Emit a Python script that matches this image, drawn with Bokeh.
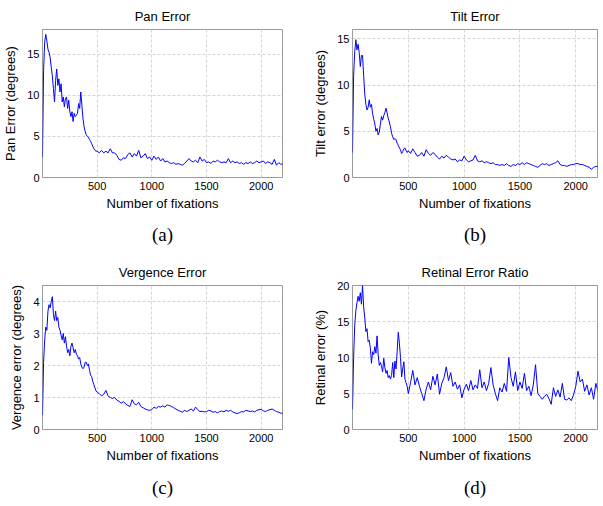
from bokeh.plotting import figure
from bokeh.layouts import gridplot
from bokeh.models import Range1d, FixedTicker, Title
from bokeh.embed import file_html
from bokeh.resources import INLINE

FONT = "Liberation Sans"
SERIF = "Liberation Serif"

X_MAX = 2195
X_TICKS = [500, 1000, 1500, 2000]
EARLY_STEP = 10      # fixations between samples, 0..490
LATE_START = 500
LATE_STEP = 20       # fixations between samples, 500..2200

# ---- Pan error (degrees)
PAN_EARLY = [2.5, 13.0, 16.5, 17.4, 16.6, 15.6, 15.2, 14.6, 13.4, 12.4,
             10.8, 9.2, 11.8, 13.2, 11.2, 12.0, 10.4, 11.4, 9.2, 9.8,
             8.6, 9.6, 9.8, 8.4, 9.4, 8.0, 7.4, 8.0, 6.8, 7.8,
             7.4, 7.6, 7.8, 9.0, 8.4, 10.4, 8.8, 7.2, 6.2, 5.6,
             5.2, 5.0, 4.9, 4.6, 4.4, 4.1, 3.8, 3.5, 3.3, 3.2]
PAN_LATE = [3.2, 3.0, 3.3, 3.0, 3.2, 3.0, 3.5, 3.0, 3.0, 2.7,
            2.2, 2.1, 2.4, 2.3, 2.8, 3.0, 2.5, 2.9, 2.6, 3.3,
            2.4, 2.6, 2.9, 2.3, 2.5, 2.1, 2.6, 2.2, 2.5, 2.0,
            2.3, 1.9, 2.0, 1.8, 1.7, 1.8, 1.6, 1.7, 1.6, 1.5,
            1.7, 2.0, 2.3, 2.0, 1.9, 2.1, 1.8, 2.5, 2.0, 2.2,
            1.8, 1.9, 1.7, 2.0, 1.9, 2.1, 1.9, 1.8, 1.9, 1.8,
            2.3, 1.8, 2.0, 1.8, 1.9, 1.7, 1.8, 1.6, 1.8, 1.7,
            1.9, 1.7, 1.8, 2.0, 1.8, 1.9, 2.0, 1.7, 1.9, 1.8,
            1.6, 2.2, 1.5, 1.8, 1.6, 1.7]

# ---- Tilt error (degrees)
TILT_EARLY = [2.7, 11.0, 13.6, 14.9, 13.8, 14.4, 13.5, 12.0, 13.2, 13.2,
              11.0, 9.0, 7.9, 7.3, 7.6, 8.4, 7.6, 7.9, 6.9, 6.3,
              5.8, 5.0, 5.3, 4.6, 4.9, 5.8, 6.6, 6.2, 6.7, 7.0,
              7.5, 7.0, 6.4, 6.0, 5.5, 4.8, 4.4, 4.1, 4.2, 4.1,
              3.7, 3.5, 3.2, 3.0, 2.6, 2.8, 3.1, 3.2, 2.9, 2.7]
TILT_LATE = [2.9, 2.6, 3.1, 2.7, 2.3, 2.4, 2.7, 2.3, 3.0, 2.6,
             2.4, 2.7, 2.5, 2.2, 2.0, 2.3, 2.1, 2.4, 2.2, 2.0,
             1.9, 2.0, 1.7, 1.9, 1.8, 2.3, 1.9, 1.7, 1.8, 1.9,
             2.4, 1.8, 1.7, 1.8, 1.6, 1.7, 1.6, 1.5, 1.6, 1.4,
             1.4, 1.3, 1.4, 1.3, 1.5, 1.3, 1.2, 1.4, 1.3, 1.5,
             1.4, 1.6, 1.4, 1.6, 1.5, 1.4, 1.3, 1.2, 1.1, 1.3,
             1.5, 1.4, 1.5, 1.3, 1.4, 1.5, 1.6, 1.8, 1.4, 1.3,
             1.3, 1.2, 1.3, 1.4, 1.4, 1.5, 1.5, 1.4, 1.4, 1.3,
             1.2, 1.1, 0.9, 1.1, 1.2, 1.2]

# ---- Vergence error (degrees)
VERG_EARLY = [0.45, 2.1, 2.8, 3.2, 3.1, 3.7, 3.9, 3.8, 4.0, 4.15,
              3.6, 3.4, 3.7, 3.4, 3.5, 3.2, 3.1, 2.95, 2.8, 3.0,
              2.7, 2.9, 2.6, 2.4, 2.5, 2.3, 2.6, 2.7, 2.55, 2.4,
              2.5, 2.35, 2.3, 2.2, 2.25, 2.05, 1.95, 1.9, 1.95, 2.1,
              2.1, 2.0, 2.05, 1.85, 1.7, 1.65, 1.5, 1.4, 1.3, 1.2]
VERG_LATE = [1.17, 1.12, 1.05, 1.1, 1.22, 1.05, 1.0, 0.97, 1.0, 0.92,
             0.88, 0.82, 0.87, 0.8, 0.75, 0.72, 0.93, 0.8, 0.77, 0.85,
             0.72, 0.68, 0.64, 0.61, 0.6, 0.62, 0.7, 0.66, 0.72, 0.7,
             0.74, 0.7, 0.77, 0.75, 0.72, 0.68, 0.64, 0.6, 0.57, 0.54,
             0.6, 0.56, 0.6, 0.64, 0.58, 0.7, 0.62, 0.56, 0.57, 0.55,
             0.56, 0.6, 0.58, 0.54, 0.56, 0.52, 0.56, 0.58, 0.55, 0.6,
             0.57, 0.6, 0.55, 0.52, 0.5, 0.52, 0.56, 0.55, 0.6, 0.58,
             0.56, 0.58, 0.55, 0.6, 0.62, 0.63, 0.58, 0.56, 0.6, 0.62,
             0.64, 0.6, 0.56, 0.54, 0.51, 0.5]

# ---- Retinal error ratio (%)
RET_EARLY = [2.8, 10.0, 14.5, 16.5, 17.6, 18.5, 17.8, 19.0, 17.4, 20.0,
             17.0, 15.5, 13.6, 14.0, 12.2, 12.4, 11.3, 9.2, 10.8, 10.4,
             11.5, 10.6, 13.0, 10.4, 8.9, 9.3, 8.8, 8.0, 9.9, 8.6,
             7.8, 8.2, 7.2, 7.5, 7.0, 7.5, 9.3, 7.2, 9.5, 8.4,
             10.8, 13.5, 12.0, 10.0, 7.3, 8.4, 9.4, 7.0, 6.5, 6.0]
RET_LATE = [5.0, 6.5, 8.2, 6.2, 7.2, 6.0, 5.0, 4.0, 5.6, 6.6,
            5.5, 7.4, 6.2, 7.7, 4.9, 6.4, 7.2, 8.7, 6.8, 7.9,
            6.0, 6.6, 5.6, 6.2, 4.4, 5.6, 6.3, 5.4, 6.8, 5.5,
            6.2, 5.7, 8.3, 5.8, 6.6, 5.4, 6.4, 8.6, 6.2, 5.0,
            4.0, 5.8, 5.2, 6.4, 5.3, 10.0, 7.2, 6.0, 8.0, 5.4,
            6.6, 5.7, 7.8, 5.4, 6.0, 4.7, 6.2, 9.0, 5.0, 4.6,
            4.2, 4.6, 4.9, 4.3, 3.5, 5.8, 4.6, 5.5, 4.5, 6.4,
            4.2, 4.1, 4.4, 4.0, 4.8, 6.0, 8.1, 6.6, 7.0, 5.3,
            6.2, 4.8, 5.8, 4.2, 6.4, 5.3]


def make_panel(title, ylabel, caption, early, late, ymax, yticks,
               width, height, bl, br, bt, bb, cap_standoff):
    xs = [EARLY_STEP * i for i in range(len(early))] + \
         [LATE_START + LATE_STEP * i for i in range(len(late))]
    ys = early + late
    p = figure(width=width, height=height, output_backend="svg",
               toolbar_location=None,
               x_range=Range1d(0, X_MAX), y_range=Range1d(0, ymax),
               min_border_left=bl, min_border_right=br,
               min_border_top=bt, min_border_bottom=bb)
    p.background_fill_color = "white"
    p.border_fill_color = "white"
    p.outline_line_color = "#9a9a9a"
    p.outline_line_width = 1

    p.line(xs, ys, line_color="#0000ff", line_width=1)

    p.title.text = title
    p.title.align = "center"
    p.title.text_font = FONT
    p.title.text_font_size = "13px"
    p.title.text_font_style = "normal"
    p.title.text_color = "black"
    p.title.standoff = 12

    p.xaxis.ticker = FixedTicker(ticks=X_TICKS)
    p.yaxis.ticker = FixedTicker(ticks=yticks)
    p.xaxis.axis_label = "Number of fixations"
    p.yaxis.axis_label = ylabel
    for ax in (p.xaxis[0], p.yaxis[0]):
        ax.axis_line_color = None
        ax.major_tick_in = 0
        ax.major_tick_out = 0
        ax.major_tick_line_color = None
        ax.minor_tick_line_color = None
        ax.major_label_text_font = FONT
        ax.major_label_text_font_size = "11px"
        ax.major_label_text_color = "black"
        ax.axis_label_text_font = FONT
        ax.axis_label_text_font_size = "13px"
        ax.axis_label_text_font_style = "normal"
        ax.axis_label_text_color = "black"
    p.xaxis.major_label_standoff = 4
    p.xaxis.axis_label_standoff = 3
    p.yaxis.major_label_standoff = 3
    p.yaxis.axis_label_standoff = 6

    p.xgrid.ticker = FixedTicker(ticks=X_TICKS)
    p.ygrid.ticker = FixedTicker(ticks=yticks)
    for g in (p.xgrid[0], p.ygrid[0]):
        g.grid_line_color = "#d4d4d4"
        g.grid_line_dash = "3 2"
        g.grid_line_width = 1

    p.add_layout(Title(text=caption, align="center", text_font=SERIF,
                       text_font_size="19px", text_font_style="normal",
                       text_color="black", standoff=cap_standoff), "below")
    return p


pa = make_panel("Pan Error", "Pan Error (degrees)", "(a)", PAN_EARLY, PAN_LATE,
                18, [0, 5, 10, 15], 300, 252, 36, 18, 29, 74, 16)
pb = make_panel("Tilt Error", "Tilt error (degrees)", "(b)", TILT_EARLY, TILT_LATE,
                16, [0, 5, 10, 15], 300, 252, 52, 3, 29, 74, 16)
pc = make_panel("Vergence Error", "Vergence error (degrees)", "(c)", VERG_EARLY, VERG_LATE,
                4.5, [0, 1, 2, 3, 4], 300, 254, 36, 18, 33, 75, 18)
pd = make_panel("Retinal Error Ratio", "Retinal error (%)", "(d)", RET_EARLY, RET_LATE,
                20, [0, 5, 10, 15, 20], 300, 254, 52, 3, 33, 75, 18)

grid = gridplot([[pa, pb], [pc, pd]], toolbar_location=None)

open("out.html", "w").write(file_html(grid, INLINE))
